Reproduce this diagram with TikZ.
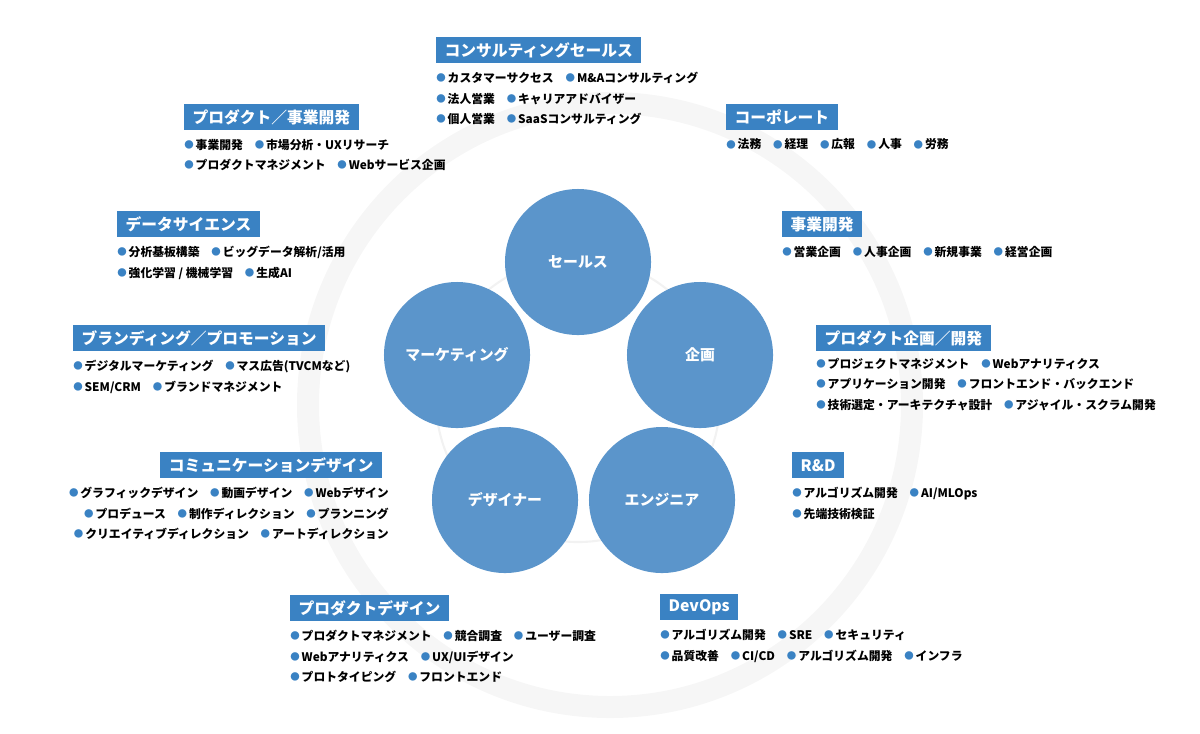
\documentclass[tikz,border=0pt]{standalone}
\usepackage{fontspec}
\setmainfont{Noto Sans CJK JP}
\usepackage{xcolor}
\usetikzlibrary{positioning}
\definecolor{boxblue}{HTML}{3A82C3}
\definecolor{roleblue}{HTML}{5B95CB}
\newcommand{\bt}{{\color{boxblue}\raisebox{.15ex}{\scalebox{.8}{●}}}\,}

\begin{document}
\begin{tikzpicture}[x=0.025cm, y=-0.025cm,
  role/.style={circle, fill=roleblue, minimum size=3.65cm, text=white, font=\fontsize{10.6}{12}\selectfont\bfseries},
  title/.style={fill=boxblue, text=white, anchor=north west, inner sep=0pt, minimum height=0.65cm, inner xsep=6pt, font=\fontsize{11.2}{13}\selectfont\bfseries},
  items/.style={anchor=north west, inner sep=0pt, align=left, font=\fontsize{8.4}{14.8}\selectfont\bfseries}]

  \useasboundingbox (0,0) rectangle (1200,733);
  \draw[line width=0.55cm, gray!7] (610,405) circle [radius=302];
  \draw[line width=1.5pt, gray!10] (578,400) circle [radius=142];

  \node[role] (sales) at (578,262) {セールス};
  \node[role] (plan) at (700,355) {企画};
  \node[role] (eng) at (662,500) {エンジニア};
  \node[role] (des) at (505,500) {デザイナー};
  \node[role] (mkt) at (457,355) {マーケティング};

  % top
  \node[title] (consult) at (436,37) {コンサルティングセールス};
  \node[items, below=0.2cm of consult.south west, anchor=north west] (consultL)
    {\bt カスタマーサクセス\quad\bt M\&Aコンサルティング\\ \bt 法人営業\quad\bt キャリアアドバイザー\\ \bt 個人営業\quad\bt SaaSコンサルティング};

  % left side
  \node[title] (prodbiz) at (184,104) {プロダクト／事業開発};
  \node[items, below=0.2cm of prodbiz.south west, anchor=north west] (prodbizL)
    {\bt 事業開発\quad\bt 市場分析・UXリサーチ\\ \bt プロダクトマネジメント\quad\bt Webサービス企画};

  \node[title] (data) at (117,211) {データサイエンス};
  \node[items, below=0.2cm of data.south west, anchor=north west] (dataL)
    {\bt 分析基板構築\quad\bt ビッグデータ解析/活用\\ \bt 強化学習 / 機械学習\quad\bt 生成AI};

  \node[title] (brand) at (73,325) {ブランディング／プロモーション};
  \node[items, below=0.2cm of brand.south west, anchor=north west] (brandL)
    {\bt デジタルマーケティング\quad\bt マス広告(TVCMなど)\\ \bt SEM/CRM\quad\bt ブランドマネジメント};

  \node[title, anchor=north east] (comm) at (382,452) {コミュニケーションデザイン};
  \node[items, align=right, below=0.2cm of comm.south east, anchor=north east, xshift=5pt] (commL)
    {\bt グラフィックデザイン\quad\bt 動画デザイン\quad\bt Webデザイン\\ \bt プロデュース\quad\bt 制作ディレクション\quad\bt プランニング\\ \bt クリエイティブディレクション\quad\bt アートディレクション};

  \node[title] (pdes) at (290,595) {プロダクトデザイン};
  \node[items, below=0.2cm of pdes.south west, anchor=north west] (pdesL)
    {\bt プロダクトマネジメント\quad\bt 競合調査\quad\bt ユーザー調査\\ \bt Webアナリティクス\quad\bt UX/UIデザイン\\ \bt プロトタイピング\quad\bt フロントエンド};

  % right side
  \node[title] (corp) at (726,104) {コーポレート};
  \node[items, below=0.2cm of corp.south west, anchor=north west] (corpL)
    {\bt 法務\quad\bt 経理\quad\bt 広報\quad\bt 人事\quad\bt 労務};

  \node[title] (bizdev) at (782,211) {事業開発};
  \node[items, below=0.2cm of bizdev.south west, anchor=north west] (bizdevL)
    {\bt 営業企画\quad\bt 人事企画\quad\bt 新規事業\quad\bt 経営企画};

  \node[title] (pplan) at (816,325) {プロダクト企画／開発};
  \node[items, below=0.15cm of pplan.south west, anchor=north west] (pplanL)
    {\bt プロジェクトマネジメント\quad\bt Webアナリティクス\\ \bt アプリケーション開発\quad\bt フロントエンド・バックエンド\\ \bt 技術選定・アーキテクチャ設計\quad\bt アジャイル・スクラム開発};

  \node[title] (rnd) at (792,452) {R\&D};
  \node[items, below=0.2cm of rnd.south west, anchor=north west] (rndL)
    {\bt アルゴリズム開発\quad\bt AI/MLOps\\ \bt 先端技術検証};

  \node[title] (devops) at (660,594) {DevOps};
  \node[items, below=0.2cm of devops.south west, anchor=north west] (devopsL)
    {\bt アルゴリズム開発\quad\bt SRE\quad\bt セキュリティ\\ \bt 品質改善\quad\bt CI/CD\quad\bt アルゴリズム開発\quad\bt インフラ};
\end{tikzpicture}
\end{document}
